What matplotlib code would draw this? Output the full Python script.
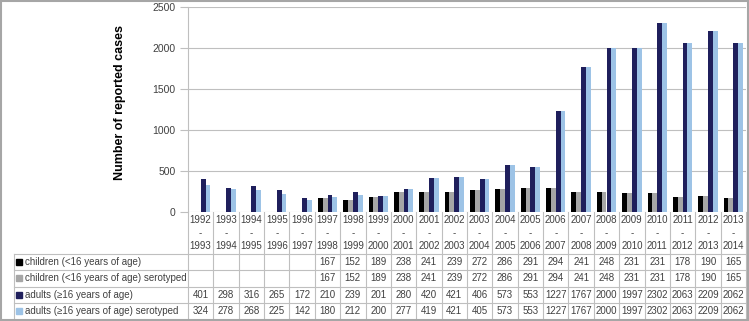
import matplotlib
matplotlib.use('Agg')
import matplotlib.pyplot as plt
import matplotlib.transforms as mtransforms
from matplotlib.patches import Rectangle
import numpy as np

plt.rcParams['font.family'] = ['Liberation Sans', 'DejaVu Sans']

periods = ['1992-1993', '1993-1994', '1994-1995', '1995-1996', '1996-1997',
           '1997-1998', '1998-1999', '1999-2000', '2000-2001', '2001-2002',
           '2002-2003', '2003-2004', '2004-2005', '2005-2006', '2006-2007',
           '2007-2008', '2008-2009', '2009-2010', '2010-2011', '2011-2012',
           '2012-2013', '2013-2014']
nan = np.nan
children = [nan, nan, nan, nan, nan, 167, 152, 189, 238, 241, 239, 272, 286,
            291, 294, 241, 248, 231, 231, 178, 190, 165]
children_sero = [nan, nan, nan, nan, nan, 167, 152, 189, 238, 241, 239, 272,
                 286, 291, 294, 241, 248, 231, 231, 178, 190, 165]
adults = [401, 298, 316, 265, 172, 210, 239, 201, 280, 420, 421, 406, 573,
          553, 1227, 1767, 2000, 1997, 2302, 2063, 2209, 2062]
adults_sero = [324, 278, 268, 225, 142, 180, 212, 200, 277, 419, 421, 405,
               573, 553, 1227, 1767, 2000, 1997, 2302, 2063, 2209, 2062]

series = [
    ('children (<16 years of age)', children, '#000000'),
    ('children (<16 years of age) serotyped', children_sero, '#A6A6A6'),
    ('adults (\u226516 years of age)', adults, '#1F1F5C'),
    ('adults (\u226516 years of age) serotyped', adults_sero, '#9DC3E6'),
]

W, H = 749, 321
fig = plt.figure(figsize=(W / 100, H / 100), dpi=100)

# chart area
ax = fig.add_axes([188 / W, 1 - 212 / H, 558 / W, 205 / H])
x = np.arange(len(periods))
bw = 0.19
for k, (name, vals, col) in enumerate(series):
    ax.bar(x + (k - 1.5) * bw, vals, width=bw, color=col, zorder=3)

ax.set_xlim(-0.5, len(periods) - 0.5)
ax.set_ylim(0, 2500)
ax.set_yticks(range(0, 2501, 500))
ax.set_xticks([])
ax.yaxis.grid(True, color='#BFBFBF', lw=0.8)
ax.set_axisbelow(True)
ax.tick_params(axis='y', length=6, color='#BFBFBF', labelsize=7.5,
               labelcolor='#404040', pad=3)
for s in ['top', 'right', 'bottom']:
    ax.spines[s].set_visible(False)
ax.spines['left'].set_color('#BFBFBF')

fig.text(120 / W, 1 - 103 / H, 'Number of reported cases', rotation=90,
         ha='center', va='center', fontsize=9, fontweight='bold')

# data table below the chart
tab = fig.add_axes([0, 0, 1, 1], zorder=-1)
tab.set_xlim(0, W)
tab.set_ylim(H, 0)
tab.axis('off')
blend = mtransforms.blended_transform_factory(ax.transData, tab.transData)

grid_c = '#BFBFBF'
txt_c = '#404040'
fs = 7
n = len(periods)
row_top = 253.5
row_h = 16.5
bottom = row_top + row_h * len(series)

for i in range(n + 1):
    tab.plot([i - 0.5, i - 0.5], [212, bottom], color=grid_c, lw=0.8,
             transform=blend)
for i, p in enumerate(periods):
    a, b = p.split('-')
    for yy, s in zip([220, 233, 246], [a, '-', b]):
        tab.text(i, yy, s, transform=blend, ha='center', va='center',
                 fontsize=fs, color=txt_c)

tab.plot([14, 14], [row_top, bottom], color=grid_c, lw=0.8)
for r in range(len(series) + 1):
    yy = row_top + r * row_h
    tab.plot([14, 746], [yy, yy], color=grid_c, lw=0.8)

for r, (name, vals, col) in enumerate(series):
    yc = row_top + (r + 0.5) * row_h
    tab.add_patch(Rectangle((16, yc - 3), 6, 6, color=col))
    tab.text(25, yc, name, ha='left', va='center', fontsize=fs, color=txt_c)
    for i, v in enumerate(vals):
        if not np.isnan(v):
            tab.text(i, yc, f'{int(v)}', transform=blend, ha='center',
                     va='center', fontsize=fs, color=txt_c)

fig.patches.append(Rectangle((0.001, 0.002), 0.997, 0.996,
                             transform=fig.transFigure, fill=False,
                             edgecolor='#A6A6A6', lw=1.5))

fig.savefig('out.png', dpi=100)
